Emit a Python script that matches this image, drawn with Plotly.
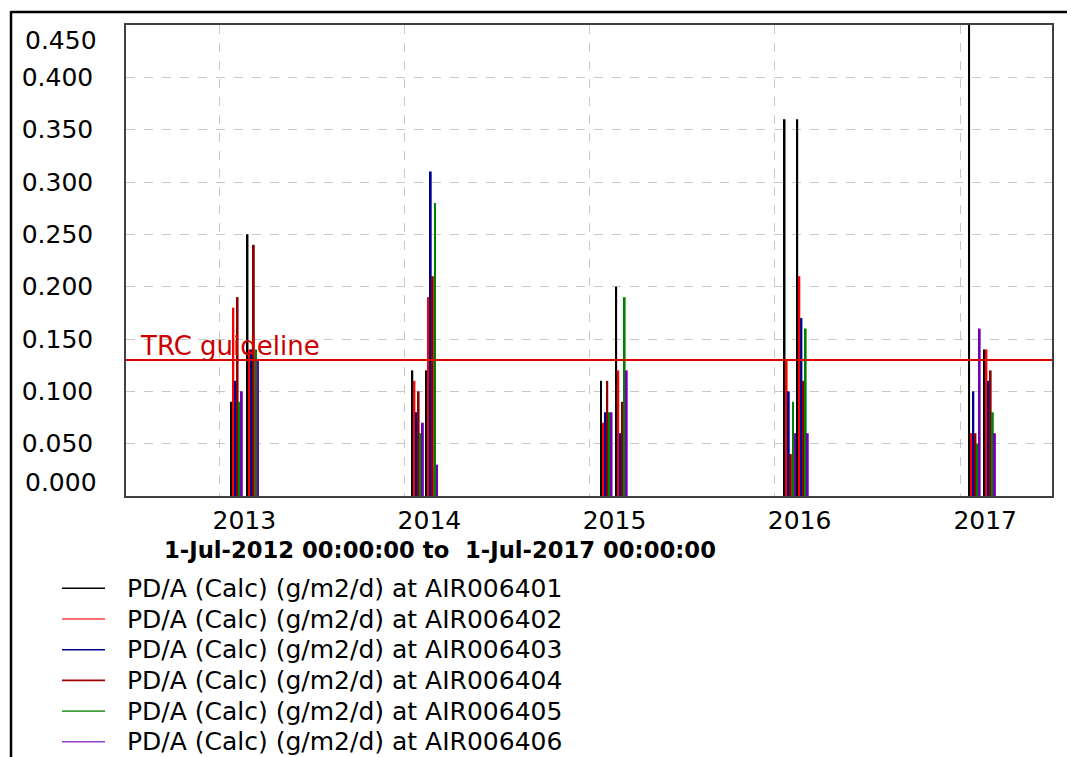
import plotly.graph_objects as go

# ---------------- data ----------------
sample_dates = ['2013-02-04', '2013-03-08', '2014-01-27', '2014-02-24',
                '2015-02-03', '2015-03-05', '2016-01-31', '2016-02-25',
                '2017-01-29', '2017-02-28']

series_names = ['PD/A (Calc) (g/m2/d) at AIR006401',
                'PD/A (Calc) (g/m2/d) at AIR006402',
                'PD/A (Calc) (g/m2/d) at AIR006403',
                'PD/A (Calc) (g/m2/d) at AIR006404',
                'PD/A (Calc) (g/m2/d) at AIR006405',
                'PD/A (Calc) (g/m2/d) at AIR006406']

air006401 = [0.09, 0.25, 0.12, 0.12, 0.11, 0.20, 0.36, 0.36, 0.50, 0.14]
air006402 = [0.18, 0.14, 0.11, 0.19, 0.07, 0.12, 0.13, 0.21, 0.06, 0.14]
air006403 = [0.11, 0.14, 0.08, 0.31, 0.08, 0.06, 0.10, 0.17, 0.10, 0.11]
air006404 = [0.19, 0.24, 0.10, 0.21, 0.11, 0.09, 0.04, 0.11, 0.06, 0.12]
air006405 = [0.09, 0.14, 0.06, 0.28, 0.08, 0.19, 0.09, 0.16, 0.05, 0.08]
air006406 = [0.10, 0.13, 0.07, 0.03, 0.08, 0.12, 0.06, 0.06, 0.16, 0.06]
series_values = [air006401, air006402, air006403, air006404, air006405, air006406]

bar_colors = ['#000000', '#ff0000', '#00008b', '#8b0000', '#008000', '#7000b0']
legend_colors = ['#000000', '#ff4040', '#000080', '#a00000', '#40a040', '#9040c8']

guideline_value = 0.13
guideline_label = 'TRC guideline'

year_ticks = ['2013-01-01', '2014-01-01', '2015-01-01', '2016-01-01', '2017-01-01']
year_labels = ['2013', '2014', '2015', '2016', '2017']

y_tickvals = [0.05, 0.10, 0.15, 0.20, 0.25, 0.30, 0.35, 0.40]
y_ticktext = ['0.050', '0.100', '0.150', '0.200', '0.250', '0.300', '0.350', '0.400']

x_range = ['2012-07-01', '2017-07-01']
period_title = '1-Jul-2012 00:00:00 to  1-Jul-2017 00:00:00'

# ---------------- layout geometry ----------------
OFF = 8                      # page body margin
W, H = 1075 - OFF, 757 - OFF
PL, PR, PT, PB = 126, 1052, 25, 496   # plot box in page pixels
L, T = PL - OFF, PT - OFF
R, B = W - (PR - OFF), H - (PB - OFF)
PW, PH = PR - PL, PB - PT
FONT = 'DejaVu Sans'


def xp(px):
    return (px - PL) / PW


def yp(py):
    return (PB - py) / PH


fig = go.Figure()
for name, vals, col in zip(series_names, series_values, bar_colors):
    fig.add_trace(go.Bar(x=sample_dates, y=vals, name=name,
                         marker=dict(color=col, line=dict(width=0)),
                         showlegend=False))

shapes = []
annotations = []

# guideline
shapes.append(dict(type='line', xref='paper', yref='y', x0=0, x1=1,
                   y0=guideline_value, y1=guideline_value,
                   line=dict(color='#dd0000', width=2)))
annotations.append(dict(xref='paper', yref='y', x=xp(138), y=guideline_value,
                        xanchor='left', yanchor='bottom', yshift=-3,
                        text=guideline_label, showarrow=False,
                        font=dict(family=FONT, size=26, color='#cc0000')))

# end tick labels (shifted inside the plot)
annotations.append(dict(xref='paper', yref='y', x=0, y=0, xanchor='right',
                        yanchor='middle', xshift=-27, yshift=14, text='0.000',
                        showarrow=False, font=dict(family=FONT, size=25, color='#000')))
annotations.append(dict(xref='paper', yref='y', x=0, y=0.45, xanchor='right',
                        yanchor='middle', xshift=-27, yshift=-15, text='0.450',
                        showarrow=False, font=dict(family=FONT, size=25, color='#000')))

# period title
annotations.append(dict(xref='paper', yref='paper', x=xp(162), y=yp(550),
                        xanchor='left', yanchor='middle', text='<b>' + period_title + '</b>',
                        showarrow=False, font=dict(family=FONT, size=22.7, color='#000')))

# legend
for i, (name, col) in enumerate(zip(series_names, legend_colors)):
    ly = 588.3 + 30.7 * i
    shapes.append(dict(type='line', xref='paper', yref='paper',
                       x0=xp(62), x1=xp(105), y0=yp(ly), y1=yp(ly),
                       line=dict(color=col, width=1.6)))
    annotations.append(dict(xref='paper', yref='paper', x=xp(125), y=yp(ly),
                            xanchor='left', yanchor='middle', text=name,
                            showarrow=False,
                            font=dict(family=FONT, size=25, color='#000')))

# page frame (top and left)
shapes.append(dict(type='line', xref='paper', yref='paper',
                   x0=xp(11), x1=xp(1090), y0=yp(12), y1=yp(12),
                   line=dict(color='#000', width=2.5)))
shapes.append(dict(type='line', xref='paper', yref='paper',
                   x0=xp(11), x1=xp(11), y0=yp(11), y1=yp(800),
                   line=dict(color='#000', width=2.5)))

fig.update_layout(
    width=W, height=H,
    margin=dict(l=L, r=R, t=T, b=B),
    paper_bgcolor='white', plot_bgcolor='white',
    barmode='group', bargap=0.0, bargroupgap=0.1,
    showlegend=False,
    shapes=shapes, annotations=annotations,
    font=dict(family=FONT, size=25, color='#000'),
)
fig.update_xaxes(type='date', range=x_range, tickvals=year_ticks, ticktext=year_labels,
                 showgrid=True, gridcolor='#c8c8c8', griddash='dash', gridwidth=1,
                 showline=True, mirror=True, linecolor='#404040', linewidth=1.5,
                 ticks='', ticklabelshift=25, ticklabelstandoff=1,
                 tickfont=dict(family=FONT, size=25, color='#000'), zeroline=False)
fig.update_yaxes(range=[0, 0.45], tickvals=y_tickvals, ticktext=y_ticktext,
                 showgrid=True, gridcolor='#c8c8c8', griddash='dash', gridwidth=1,
                 showline=True, mirror=True, linecolor='#404040', linewidth=1.5,
                 ticks='', ticklabelstandoff=26, zeroline=False,
                 tickfont=dict(family=FONT, size=25, color='#000'))

fig.write_html('out.html')
